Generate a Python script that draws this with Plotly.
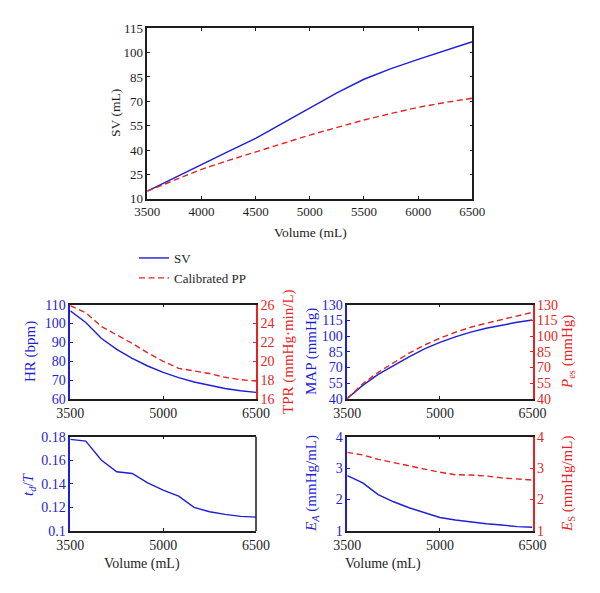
import plotly.graph_objects as go

# ---------------- data ----------------
volume = [3500, 3750, 4000, 4250, 4500, 4750, 5000, 5250, 5500, 5750, 6000, 6250, 6500]

sv = [14.7, 23.0, 31.2, 39.2, 47.2, 56.6, 66.3, 75.2, 83.6, 90.2, 95.9, 101.5, 106.7]
sv_pp = [14.7, 21.6, 28.1, 33.6, 38.6, 44.0, 49.2, 54.0, 58.5, 62.5, 66.3, 69.3, 71.9]

hr = [106.8, 100.6, 92.2, 86.3, 81.6, 77.5, 74.1, 71.3, 69.0, 67.1, 65.6, 64.4, 63.5]
tpr = [25.9, 25.15, 23.7, 22.8, 21.9, 20.9, 20.0, 19.25, 19.0, 18.7, 18.3, 18.05, 17.9]

map_ = [40.5, 53.0, 63.5, 72.0, 80.3, 87.8, 94.0, 99.3, 103.8, 107.5, 110.6, 113.2, 115.4]
pes = [40.5, 54.5, 65.5, 75.0, 83.7, 91.5, 98.0, 103.7, 108.5, 112.3, 115.8, 119.3, 122.7]

td_t = [0.1777, 0.1763, 0.1602, 0.1503, 0.1488, 0.1409, 0.1347, 0.1296, 0.1200, 0.1163, 0.1141, 0.1124, 0.1118]

ea = [2.76, 2.53, 2.16, 1.93, 1.74, 1.58, 1.43, 1.35, 1.28, 1.23, 1.19, 1.14, 1.12]
es = [3.50, 3.42, 3.28, 3.17, 3.08, 2.97, 2.87, 2.79, 2.78, 2.75, 2.69, 2.65, 2.62]

top_xticks = [3500, 4000, 4500, 5000, 5500, 6000, 6500]
top_yticks = [10, 25, 40, 55, 70, 85, 100, 115]
bot_xticks = [3500, 5000, 6500]
hr_ticks = [60, 70, 80, 90, 100, 110]
tpr_ticks = [16, 18, 20, 22, 24, 26]
map_ticks = [40, 55, 70, 85, 100, 115, 130]
td_ticks = [0.1, 0.12, 0.14, 0.16, 0.18]
td_labels = ["0.1", "0.12", "0.14", "0.16", "0.18"]
e_ticks = [1, 2, 3, 4]

# ---------------- style ----------------
W, H = 600, 593
BLUE = "rgb(30,30,215)"
RED = "rgb(230,35,35)"
BLACK = "rgb(30,30,30)"
FONT = "Liberation Serif, Times New Roman, serif"
DASH = "6px,3.5px"


def px_x(a, b):
    return [a / W, b / W]


def px_y(top, bottom):
    return [1 - bottom / H, 1 - top / H]


fig = go.Figure()


def line(x, y, xa, ya, color, dash=None, name=None, legend=False):
    fig.add_trace(go.Scatter(
        x=x, y=y, xaxis=xa, yaxis=ya, mode="lines", name=name,
        showlegend=legend,
        line=dict(color=color, width=1.4, dash=dash if dash else "solid"),
    ))


line(volume, sv, "x", "y", BLUE, name="SV", legend=True)
line(volume, sv_pp, "x", "y", RED, DASH, name="Calibrated PP", legend=True)
line(volume, hr, "x2", "y2", BLUE)
line(volume, tpr, "x2", "y3", RED, DASH)
line(volume, map_, "x3", "y4", BLUE)
line(volume, pes, "x3", "y5", RED, DASH)
line(volume, td_t, "x4", "y6", BLUE)
line(volume, ea, "x5", "y7", BLUE)
line(volume, es, "x5", "y8", RED, DASH)


def xax(domain, anchor, tickvals, fs):
    return dict(domain=domain, anchor=anchor, range=[3500, 6500],
                tickvals=tickvals, ticks="inside", ticklen=3, tickwidth=1,
                tickcolor=BLACK, showline=True, linecolor=BLACK, linewidth=1.5,
                mirror="ticks", showgrid=False, zeroline=False, automargin=False,
                tickfont=dict(family=FONT, size=fs, color=BLACK))


def yax(domain, anchor, rng, tickvals, color, side="left", overlay=None,
        mirror=False, fs=13, ticktext=None):
    d = dict(domain=domain, anchor=anchor, range=rng, tickvals=tickvals,
             ticks="inside", ticklen=3, tickwidth=1, tickcolor=color,
             showline=True, linecolor=color, linewidth=1.5, side=side,
             showgrid=False, zeroline=False, mirror=mirror, automargin=False,
             tickfont=dict(family=FONT, size=fs, color=color))
    if ticktext is not None:
        d["ticktext"] = ticktext
    if overlay:
        d["overlaying"] = overlay
    return d


top_x = px_x(147.3, 472.3)
top_y = px_y(28.3, 198.7)
left_x = px_x(70.3, 256)
right_x = px_x(347.3, 532.5)
row1 = px_y(304.7, 399)
row2 = px_y(436.7, 531)

fig.update_layout(
    width=W, height=H,
    margin=dict(l=0, r=0, t=0, b=0, autoexpand=False),
    paper_bgcolor="white", plot_bgcolor="white",
    font=dict(family=FONT, size=13, color=BLACK),
    xaxis=xax(top_x, "y", top_xticks, 13),
    yaxis=yax(top_y, "x", [10, 115], top_yticks, BLACK, mirror="ticks", fs=13),
    xaxis2=xax(left_x, "y2", bot_xticks, 14),
    yaxis2=yax(row1, "x2", [60, 110], hr_ticks, BLUE, fs=14),
    yaxis3=yax(row1, "x2", [16, 26], tpr_ticks, RED, side="right", overlay="y2", fs=14),
    xaxis3=xax(right_x, "y4", bot_xticks, 14),
    yaxis4=yax(row1, "x3", [40, 130], map_ticks, BLUE, fs=14),
    yaxis5=yax(row1, "x3", [40, 130], map_ticks, RED, side="right", overlay="y4", fs=14),
    xaxis4=xax(left_x, "y6", bot_xticks, 14),
    yaxis6=yax(row2, "x4", [0.1, 0.18], td_ticks, BLUE, ticktext=td_labels, fs=14),
    xaxis5=xax(right_x, "y7", bot_xticks, 14),
    yaxis7=yax(row2, "x5", [1, 4], e_ticks, BLUE, fs=14),
    yaxis8=yax(row2, "x5", [1, 4], e_ticks, RED, side="right", overlay="y7", fs=14),
    legend=dict(x=134 / W, y=1 - 243 / H, xanchor="left", yanchor="top",
                bgcolor="rgba(0,0,0,0)", font=dict(family=FONT, size=13),
                itemwidth=30, tracegroupgap=0),
    showlegend=True,
)

annots = [
    dict(text="Volume (mL)", x=310 / W, y=1 - 232 / H, textangle=0, size=13.5, color=BLACK),
    dict(text="SV (mL)", x=115 / W, y=1 - 113 / H, textangle=-90, size=13.5, color=BLACK),
    dict(text="HR (bpm)", x=30 / W, y=1 - 352 / H, textangle=-90, size=15, color=BLUE),
    dict(text="TPR (mmHg·min/L)", x=288 / W, y=1 - 352 / H, textangle=-90, size=15, color=RED),
    dict(text="MAP (mmHg)", x=311 / W, y=1 - 352 / H, textangle=-90, size=15, color=BLUE),
    dict(text="<i>P</i><sub>es</sub> (mmHg)", x=568 / W, y=1 - 352 / H, textangle=-90, size=15, color=RED),
    dict(text="<i>t<sub>d</sub></i>/<i>T</i>", x=29 / W, y=1 - 484 / H, textangle=-90, size=15, color=BLUE),
    dict(text="<i>E</i><sub><i>A</i></sub> (mmHg/mL)", x=312 / W, y=1 - 484 / H, textangle=-90, size=15, color=BLUE),
    dict(text="<i>E</i><sub>S</sub> (mmHg/mL)", x=568 / W, y=1 - 484 / H, textangle=-90, size=15, color=RED),
    dict(text="Volume (mL)", x=142 / W, y=1 - 564 / H, textangle=0, size=14, color=BLACK),
    dict(text="Volume (mL)", x=383 / W, y=1 - 564 / H, textangle=0, size=14, color=BLACK),
]
for a in annots:
    fig.add_annotation(text=a["text"], x=a["x"], y=a["y"], xref="paper", yref="paper",
                       xanchor="center", yanchor="middle", showarrow=False,
                       textangle=a["textangle"],
                       font=dict(family=FONT, size=a["size"], color=a["color"]))

# black right edge for the t_d/T panel (it has no right-hand axis)
fig.add_shape(type="line", xref="paper", yref="paper",
              x0=256 / W, x1=256 / W, y0=row2[0], y1=row2[1],
              line=dict(color=BLACK, width=1.5))

fig.write_html(
    "out.html",
    config={"displayModeBar": False},
    post_script="document.body.style.margin='0';document.body.style.overflow='hidden';",
)
